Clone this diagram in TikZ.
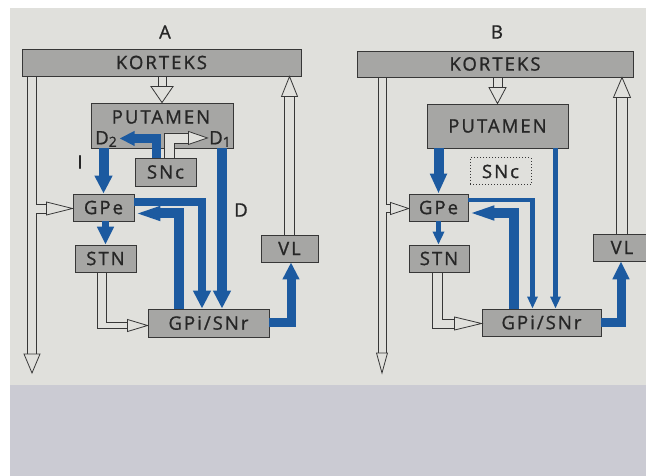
\documentclass[tikz,border=0pt]{standalone}
\usepackage{fontspec}
\newfontfamily\labfont[LetterSpace=11,FakeBold=1]{Open Sans}
\usetikzlibrary{arrows.meta,calc}
\definecolor{bluec}{RGB}{28,90,160}
\definecolor{boxfill}{RGB}{166,166,164}
\definecolor{boxline}{RGB}{55,55,55}
\definecolor{pagebg}{RGB}{224,224,220}
\definecolor{lowbg}{RGB}{203,203,211}
\definecolor{inkc}{RGB}{38,38,38}
\begin{document}
\begin{tikzpicture}[x=1pt,y=-1pt,
  txt/.style={font=\labfont\fontsize{18.5}{18.5}\selectfont, text=inkc, inner sep=0pt},
  box/.style={txt, draw=boxline, fill=boxfill, line width=0.9pt},
  dbox/.style={txt, draw=boxline, dotted, line width=1pt},
  ol/.style={draw=boxline, line width=0.8pt, line join=miter},
  hhead/.style={draw=boxline, fill=pagebg, line width=0.8pt, line join=miter},
  bl/.style={draw=bluec, line width=#1, line join=miter},
  big/.style={-{Triangle[length=18pt,width=17pt]}},
  spear/.style={-{Triangle[length=26pt,width=13pt]}},
  small/.style={-{Triangle[length=12pt,width=10pt]}}
]
\clip (0,0) rectangle (646,476);
\useasboundingbox (0,0) rectangle (646,476);
\fill[white] (0,0) rectangle (646,476);
\fill[pagebg] (9.5,8) rectangle (646,385);
\fill[lowbg] (9.5,385) rectangle (646,476);

% ================= Panel A
\node[txt] (labA) at (165,32) {A};
\node[box, minimum width=279pt, minimum height=27pt] (kA) at (161.5,62.5) {KORTEKS};
\node[box, minimum width=142pt, minimum height=45pt] (pA) at (162,125.5) {};
\node[box, minimum width=61pt, minimum height=28pt] (sncA) at (165.5,172) {SNc};
\node[box, minimum width=61pt, minimum height=27pt] (gpeA) at (103.5,207.5) {GPe};
\node[box, minimum width=61pt, minimum height=27pt] (stnA) at (105.5,258.5) {STN};
\node[box, minimum width=121pt, minimum height=28pt] (gpiA) at (208.5,323) {GPi/SNr};
\node[box, minimum width=57pt, minimum height=27pt] (vlA) at (289.5,248.5) {VL};
\coordinate (leftA) at (32,373);
\coordinate (d1A) at ($(gpiA.north)+(13.5,0)$);

% hollow connectors A
\draw[ol] ($(kA.south -| pA.north)+(-4,0)$) -- ($(pA.north)+(-4,-16)$);
\draw[ol] ($(kA.south -| pA.north)+(4,0)$) -- ($(pA.north)+(4,-16)$);
\draw[hhead] ($(pA.north)+(-11,-16)$) -- ($(pA.north)+(11,-16)$) -- (pA.north) -- cycle;

\draw[ol] ($(leftA |- kA.south)+(-4.5,0)$) -- ($(leftA)+(-4.5,-19)$);
\draw[ol] ($(leftA |- kA.south)+(4.5,0)$) |- ($(gpeA.west)+(-26,-3.5)$);
\draw[ol] ($(gpeA.west)+(-26,5.5)$) -| ($(leftA)+(4.5,-19)$);
\draw[hhead] ($(leftA)+(-8,-19)$) -- ($(leftA)+(8,-19)$) -- (leftA) -- cycle;
\draw[hhead] ($(gpeA.west)+(-26,-5.5)$) -- ($(gpeA.west)+(-26,7.5)$) -- ($(gpeA.west)+(0,1)$) -- cycle;

\draw[ol] ($(vlA.north)+(-5,0)$) -- ($(vlA.north |- kA.south)+(-5,20)$);
\draw[ol] ($(vlA.north)+(5,0)$) -- ($(vlA.north |- kA.south)+(5,20)$);
\draw[hhead] ($(vlA.north |- kA.south)+(-8,20)$) -- ($(vlA.north |- kA.south)+(8,20)$) -- (vlA.north |- kA.south) -- cycle;

\draw[ol] ($(stnA.south)+(-8,0)$) |- ($(gpiA.west)+(-20,5.5)$);
\draw[ol] ($(stnA.south)+(1,0)$) |- ($(gpiA.west)+(-20,-0.5)$);
\draw[hhead] ($(gpiA.west)+(-20,-3.5)$) -- ($(gpiA.west)+(-20,8.5)$) -- ($(gpiA.west)+(0,2.5)$) -- cycle;

\fill[pagebg] ($(sncA.north)+(-1,0)$) |- ($(pA.south east)+(-45,-15.5)$) -- ($(pA.south east)+(-45,-5.5)$) -| ($(sncA.north)+(9,0)$) -- cycle;
\draw[ol] ($(sncA.north)+(-1,0)$) |- ($(pA.south east)+(-45,-15.5)$);
\draw[ol] ($(sncA.north)+(9,0)$) |- ($(pA.south east)+(-45,-5.5)$);
\draw[hhead] ($(pA.south east)+(-45,-17)$) -- ($(pA.south east)+(-45,-4)$) -- ($(pA.south east)+(-26,-10.5)$) -- cycle;

% texts inside putamen A and labels
\node[txt] (putA) at (161,117) {PUTAMEN};
\node[txt] (d2A) at (106,139) {D{\fontsize{14}{14}\selectfont\raisebox{-2.5pt}{2}}};
\node[txt] (d1txt) at (220,139) {D{\fontsize{14}{14}\selectfont\raisebox{-2.5pt}{1}}};
\node[txt] (iA) at (80,162) {I};
\node[txt] (dA) at (241,210) {D};

% blue connectors A
\draw[bl=10pt, big] (gpeA.north |- pA.south) -- (gpeA.north);
\draw[bl=8.5pt, -{Triangle[length=15pt,width=14pt]}] ($(sncA.north)+(-9,0)$) |- ($(pA.south west)+(29,-10)$);
\draw[bl=10pt, big] (d1A |- pA.south) -- (d1A);
\draw[bl=8pt, big] ($(gpeA.east)+(0,-5)$) -| ($(gpiA.north)+(-6.5,0)$);
\draw[bl=10pt, spear] ($(gpiA.north)+(-29.5,0)$) |- ($(gpeA.east)+(0,6)$);
\draw[bl=9pt, -{Triangle[length=17pt,width=16pt]}] ($(gpiA.east)+(0,-1)$) -| ($(vlA.south)+(1.5,0)$);
\draw[bl=7pt, -{Triangle[length=18pt,width=16pt]}] ($(gpeA.south)+(2,0)$) -- (stnA.north);

% ================= Panel B
\node[txt] (labB) at (497,32) {B};
\node[box, minimum width=276pt, minimum height=26pt] (kB) at (495,64) {KORTEKS};
\node[box, minimum width=141pt, minimum height=44pt] (pB) at (497.5,126) {PUTAMEN};
\node[dbox, minimum width=61pt, minimum height=27pt] (sncB) at (500.5,171.5) {SNc};
\node[box, minimum width=59pt, minimum height=27pt] (gpeB) at (438.5,207.5) {GPe};
\node[box, minimum width=60pt, minimum height=27pt] (stnB) at (439,258.5) {STN};
\node[box, minimum width=119pt, minimum height=27pt] (gpiB) at (541.5,322.5) {GPi/SNr};
\node[box, minimum width=58pt, minimum height=27pt] (vlB) at (622,247.5) {VL};
\coordinate (leftB) at (382,373);
\coordinate (d1B) at ($(gpiB.north)+(14,0)$);

% hollow connectors B
\draw[ol] ($(kB.south -| pB.north)+(-4.5,0)$) -- ($(pB.north)+(-4.5,-16)$);
\draw[ol] ($(kB.south -| pB.north)+(4.5,0)$) -- ($(pB.north)+(4.5,-16)$);
\draw[hhead] ($(pB.north)+(-8.5,-16)$) -- ($(pB.north)+(8.5,-16)$) -- (pB.north) -- cycle;

\draw[ol] ($(leftB |- kB.south)+(-4,0)$) -- ($(leftB)+(-4,-20)$);
\draw[ol] ($(leftB |- kB.south)+(4,0)$) |- ($(gpeB.west)+(-18,-3)$);
\draw[ol] ($(gpeB.west)+(-18,5)$) -| ($(leftB)+(4,-20)$);
\draw[hhead] ($(leftB)+(-5.5,-20)$) -- ($(leftB)+(5.5,-20)$) -- (leftB) -- cycle;
\draw[hhead] ($(gpeB.west)+(-18,-5)$) -- ($(gpeB.west)+(-18,7)$) -- ($(gpeB.west)+(0,1)$) -- cycle;

\draw[ol] ($(vlB.north)+(-5.5,0)$) -- ($(vlB.north |- kB.south)+(-5.5,20)$);
\draw[ol] ($(vlB.north)+(5.5,0)$) -- ($(vlB.north |- kB.south)+(5.5,20)$);
\draw[hhead] ($(vlB.north |- kB.south)+(-8.5,20)$) -- ($(vlB.north |- kB.south)+(8.5,20)$) -- (vlB.north |- kB.south) -- cycle;

\draw[ol] ($(stnB.south)+(-7,0)$) |- ($(gpiB.west)+(-27,5.5)$);
\draw[ol] ($(stnB.south)+(3,0)$) |- ($(gpiB.west)+(-27,-3.5)$);
\draw[hhead] ($(gpiB.west)+(-27,-5.5)$) -- ($(gpiB.west)+(-27,7.5)$) -- ($(gpiB.west)+(0,1)$) -- cycle;

% blue connectors B
\draw[bl=10pt, -{Triangle[length=20pt,width=16pt]}] (gpeB.north |- pB.south) -- (gpeB.north);
\draw[bl=5pt, small] (d1B |- pB.south) -- (d1B);
\draw[bl=4.5pt, small] ($(gpeB.east)+(0,-7.5)$) -| ($(gpiB.north)+(-9,0)$);
\draw[bl=10pt, spear] ($(gpiB.north)+(-27.5,0)$) |- ($(gpeB.east)+(0,5.5)$);
\draw[bl=9pt, -{Triangle[length=18pt,width=16pt]}] (gpiB.east) -| ($(vlB.south)+(-1,0)$);
\draw[bl=5pt, -{Triangle[length=13pt,width=11pt]}] (gpeB.south) -- (gpeB.south |- stnB.north);
\end{tikzpicture}
\end{document}
